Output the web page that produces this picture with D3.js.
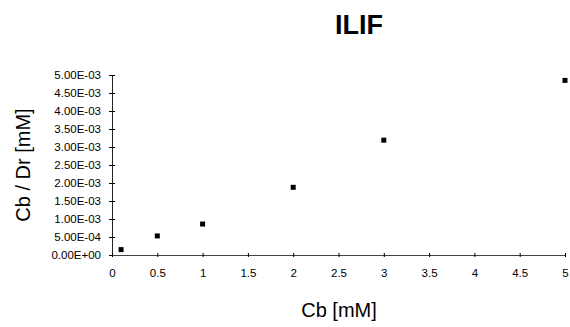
<!DOCTYPE html>
<html><head><meta charset="utf-8">
<script src="https://cdn.jsdelivr.net/npm/d3@7"></script>
<style>body{margin:0;background:#fff}svg{display:block}</style>
</head><body>
<script>
const xValues = [0.1, 0.5, 1, 2, 3, 5];
const yValues = [1.5e-4, 5.3e-4, 8.6e-4, 1.88e-3, 3.19e-3, 4.85e-3];
const xTicks = [0, 0.5, 1, 1.5, 2, 2.5, 3, 3.5, 4, 4.5, 5];
const yTicks = [0, 5e-4, 1e-3, 1.5e-3, 2e-3, 2.5e-3, 3e-3, 3.5e-3, 4e-3, 4.5e-3, 5e-3];
const yTickLabels = ["0.00E+00","5.00E-04","1.00E-03","1.50E-03","2.00E-03","2.50E-03","3.00E-03","3.50E-03","4.00E-03","4.50E-03","5.00E-03"];

const W = 570, H = 327;
const svg = d3.select("body").append("svg").attr("width", W).attr("height", H);
const x = d3.scaleLinear().domain([0, 5]).range([112, 565]);
const y = d3.scaleLinear().domain([0, 5e-3]).range([255, 75]);

const font = "'Liberation Sans', Arial, sans-serif";

// title
svg.append("text").attr("x", 359).attr("y", 34).attr("text-anchor", "middle")
  .attr("font-family", font).attr("font-weight", "bold").attr("font-size", 27).text("ILIF");

// y axis
const yAxis = d3.axisLeft(y).tickValues(yTicks).tickFormat((d, i) => yTickLabels[i])
  .tickSizeInner(3).tickSizeOuter(0).tickPadding(8);
const gy = svg.append("g").attr("transform", `translate(${x(0)},0)`).call(yAxis);
gy.selectAll(".tick line").attr("x2", 3).attr("x1", -3);
gy.selectAll("text").attr("font-family", font).attr("font-size", 11.5).attr("fill", "#000");
gy.select(".domain").attr("stroke", "#222");

// x axis
const xAxis = d3.axisBottom(x).tickValues(xTicks).tickFormat(d3.format("")).tickSizeInner(3).tickSizeOuter(0).tickPadding(11);
const gx = svg.append("g").attr("transform", `translate(0,${y(0)})`).call(xAxis);
gx.selectAll(".tick line").attr("y1", -2).attr("y2", 2);
gx.selectAll("text").attr("font-family", font).attr("font-size", 11.5).attr("fill", "#000");
gx.select(".domain").attr("stroke", "#444");

// points
svg.append("g").selectAll("rect").data(xValues).join("rect")
  .attr("x", (d) => x(d) - 2.5).attr("y", (d, i) => y(yValues[i]) - 2.5)
  .attr("width", 5).attr("height", 5).attr("fill", "#000");

// axis labels
svg.append("text").attr("x", 339).attr("y", 317).attr("text-anchor", "middle")
  .attr("font-family", font).attr("font-size", 20).text("Cb [mM]");
svg.append("text").attr("transform", "translate(30,165) rotate(-90)").attr("text-anchor", "middle")
  .attr("font-family", font).attr("font-size", 20).text("Cb / Dr [mM]");
</script>
</body></html>
